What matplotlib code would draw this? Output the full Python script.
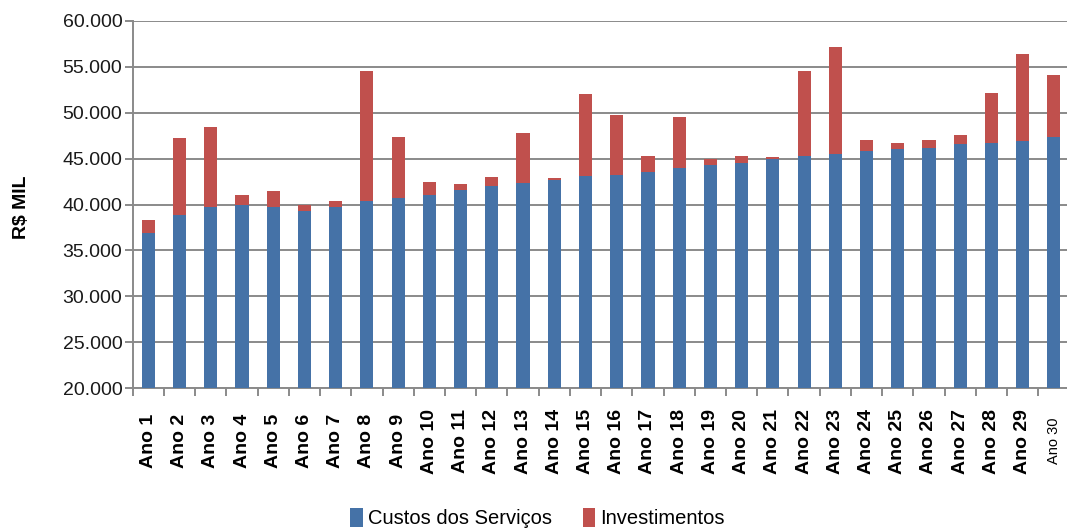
import matplotlib
matplotlib.use("Agg")
import matplotlib.pyplot as plt
from matplotlib.ticker import FuncFormatter, FixedLocator
import numpy as np

categories = [f"Ano {i}" for i in range(1, 31)]
custos = [36860, 38850, 39760, 39940, 39720, 39290, 39720, 40340, 40740, 41030,
          41610, 42010, 42340, 42700, 43130, 43200, 43570, 44000, 44290, 44510,
          44910, 45310, 45490, 45820, 46030, 46180, 46610, 46690, 46940, 47300]
totais = [38310, 47230, 48430, 41030, 41470, 39980, 40380, 54520, 47340, 42440,
          42230, 42990, 47770, 42840, 52050, 49730, 45270, 49510, 44950, 45270,
          45130, 54520, 57090, 47010, 46690, 47010, 47560, 52130, 56370, 54120]
investimentos = [t - c for t, c in zip(totais, custos)]
yticks = [20000, 25000, 30000, 35000, 40000, 45000, 50000, 55000, 60000]

BLUE = "#4572A7"
RED = "#C0504D"
GRID = "#8A8A8A"
FAM = ["Liberation Sans", "DejaVu Sans"]

fig = plt.figure(figsize=(10.67, 5.32), dpi=100)
ax = fig.add_axes([0.1244, 0.2701, 1.0 - 0.1244, 0.6910])

x = np.arange(len(categories))
w = 0.42
b1 = ax.bar(x, custos, width=w, color=BLUE, label="Custos dos Serviços", zorder=3)
b2 = ax.bar(x, investimentos, width=w, bottom=custos, color=RED,
            label="Investimentos", zorder=3)

ax.set_ylim(20000, 60000)
ax.set_xlim(-0.5, 29.42)
ax.set_yticks(yticks)
ax.yaxis.set_major_formatter(FuncFormatter(lambda v, p: f"{int(v):,}".replace(",", ".")))
ax.grid(axis="y", color=GRID, linewidth=1.4, zorder=0)
ax.set_axisbelow(True)

for s in ["top", "right"]:
    ax.spines[s].set_visible(False)
for s in ["left", "bottom"]:
    ax.spines[s].set_color(GRID)
    ax.spines[s].set_linewidth(1.4)

ax.tick_params(axis="y", length=6, width=1.4, color=GRID, pad=1.5,
               labelsize=14, labelcolor="#1a1a1a")
for lab in ax.get_yticklabels():
    lab.set_family(FAM)

ax.set_xticks(x)
ax.set_xticklabels(categories, rotation=90, va="center", ha="center",
                   fontsize=14, fontweight="bold", family=FAM)
ax.tick_params(axis="x", which="major", length=0, pad=38)
ax.get_xticklabels()[-1].set_fontsize(10.5)
ax.get_xticklabels()[-1].set_fontweight("normal")
ax.xaxis.set_minor_locator(FixedLocator(np.arange(-0.5, 30, 1.0)))
ax.tick_params(axis="x", which="minor", length=6, width=1.4, color=GRID)

fig.text(0.0197, 1 - 207.5 / 532, "R$ MIL", rotation=90, ha="center", va="center",
         fontsize=14, fontweight="bold", family=FAM)

fig.legend(handles=[b1, b2], loc="center", bbox_to_anchor=(0.5037, 1 - 518 / 532),
           ncol=2, frameon=False,
           prop={"family": FAM, "size": 14.5},
           handlelength=0.6, handleheight=1.1, handletextpad=0.25,
           columnspacing=1.55, borderaxespad=0)

fig.savefig("out.png", dpi=100)
